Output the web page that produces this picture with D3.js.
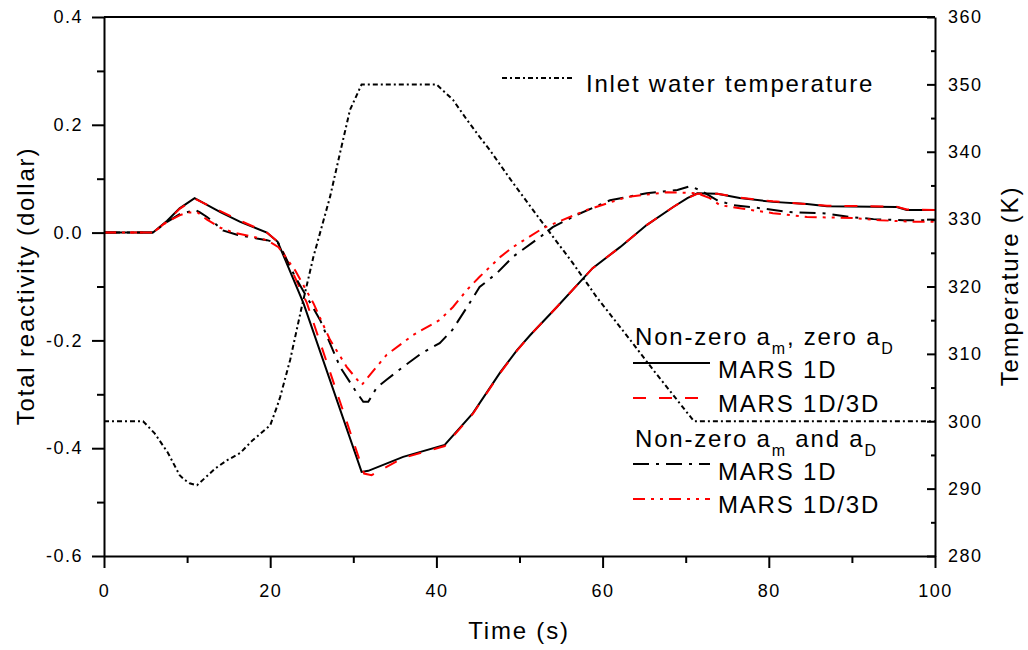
<!DOCTYPE html>
<html><head><meta charset="utf-8">
<script src="https://cdn.jsdelivr.net/npm/d3@7"></script>
<style>
body{margin:0;background:#fff;}
text{font-family:"Liberation Sans",Arial,sans-serif;fill:#000;}
</style></head>
<body><svg id="c" width="1028" height="650"></svg>
<script>
// ---- data ----
const xTicks = [0,20,40,60,80,100];
const yLeftTicks = [-0.6,-0.4,-0.2,0.0,0.2,0.4];
const yLeftLabels = ["-0.6","-0.4","-0.2","0.0","0.2","0.4"];
const yRightTicks = [280,290,300,310,320,330,340,350,360];

const inletT = [0,4.7,6.1,7.7,9.1,9.7,10.3,11.2,11.9,13.4,14.8,16.4,17.9,20,20.8,21.2,22.4,23.8,25.2,27.2,28.4,29.6,31,40,42,43.7,45.2,46.4,49.2,52.8,56.4,59.3,63.3,66.1,71,100];
const inletV = [300,300,298.2,295.3,292,291.3,290.8,290.5,291.3,293,294.2,295.3,297.2,299.4,302.1,303.6,309.1,317,324.4,333.3,339.8,346.2,350,350,347.7,344.7,342.2,340.3,335.4,329.4,323.5,318.4,312.1,307.6,300,300];

const s1T = [0,5.9,7.6,9.1,10.9,14,16.4,19.6,20.9,24,31,31.8,36,41,44.4,47.7,49.7,51.3,54.5,58.8,62.1,65.3,68.5,70.2,71.4,73.8,76.5,80.5,84.6,87,95.4,96.6,100];
const s1V = [0,0,0.022,0.045,0.064,0.038,0.02,0.0,-0.017,-0.131,-0.444,-0.442,-0.416,-0.394,-0.335,-0.259,-0.218,-0.19,-0.138,-0.066,-0.027,0.014,0.0475,0.064,0.073,0.072,0.064,0.057,0.053,0.049,0.0475,0.042,0.042];

const s2T = [0,5.9,7.6,9.1,10.9,14,16.4,19.6,21,24.4,31.3,32.2,36,41,44.4,47.7,49.7,51.3,54.5,58.8,62.1,65.3,68.5,70.2,71.4,73.8,76.5,80.5,84.6,87,95.4,96.6,100];
const s2V = [0,0,0.021,0.044,0.063,0.04,0.022,0.0,-0.018,-0.13,-0.447,-0.450,-0.418,-0.396,-0.336,-0.26,-0.219,-0.19,-0.138,-0.066,-0.027,0.014,0.0475,0.064,0.072,0.072,0.065,0.058,0.053,0.05,0.048,0.043,0.042];

const s3T = [0,5.9,7.6,9.1,11,11.5,12.4,13.5,14.3,16,18.4,19.6,21,23,26,28.4,30.2,31.2,31.8,32.8,34,36,38.3,40.4,41.9,43.7,45.2,47.3,49.2,52.5,54,56.9,60.9,65.3,69,70.5,71.7,73.8,75.7,78.6,82.5,86.5,89.8,92.6,96.2,100];
const s3V = [0,0,0.02,0.034,0.042,0.038,0.029,0.015,0.004,-0.004,-0.011,-0.014,-0.02,-0.082,-0.162,-0.249,-0.292,-0.314,-0.314,-0.288,-0.273,-0.249,-0.223,-0.205,-0.181,-0.138,-0.101,-0.075,-0.045,-0.008,0.01,0.033,0.06,0.073,0.079,0.086,0.079,0.06,0.051,0.046,0.038,0.036,0.029,0.025,0.023,0.023];

const s4T = [0,5.9,7.6,9.1,10,11.2,12.4,14,15.6,18,19.6,21,23,25.2,27.2,29.2,31,32.8,34,37.2,40.4,42,43.7,45.2,47.7,49.2,52.8,58.1,62.9,67.8,71.4,72.9,74.1,76.1,80.5,84.6,90.1,93.4,97.3,100];
const s4V = [0,0,0.02,0.032,0.037,0.038,0.024,0.009,0.0,-0.008,-0.014,-0.027,-0.07,-0.131,-0.199,-0.249,-0.283,-0.249,-0.227,-0.19,-0.162,-0.138,-0.106,-0.082,-0.045,-0.027,0.008,0.042,0.066,0.075,0.073,0.064,0.051,0.046,0.036,0.029,0.027,0.023,0.02,0.02];

// ---- chart ----
const svg = d3.select("#c");
const L=104,R=935,T=17,B=556;
const x = d3.scaleLinear().domain([0,100]).range([L,R]);
const yL = d3.scaleLinear().domain([-0.6,0.4]).range([B,T]);
const yR = d3.scaleLinear().domain([280,360]).range([B,T]);

const lineL = (ts,vs)=>d3.line().x((d,i)=>x(ts[i])).y((d,i)=>yL(vs[i]))(ts);
const lineR = (ts,vs)=>d3.line().x((d,i)=>x(ts[i])).y((d,i)=>yR(vs[i]))(ts);

const g = svg.append("g");
const styles = {
  inlet:{stroke:"#000",dash:"5,3,2,3",w:2},
  s1:{stroke:"#000",dash:null,w:2},
  s2:{stroke:"#ff0000",dash:"13,13",w:2},
  s3:{stroke:"#000",dash:"16,7,3,7",w:2},
  s4:{stroke:"#ff0000",dash:"12,6,3,6,3,6",w:2}
};
function draw(d,st){
  g.append("path").attr("d",d).attr("fill","none").attr("stroke",st.stroke)
   .attr("stroke-width",st.w).attr("stroke-dasharray",st.dash);
}
draw(lineR(inletT,inletV),styles.inlet);
draw(lineL(s1T,s1V),styles.s1);
draw(lineL(s2T,s2V),styles.s2);
draw(lineL(s3T,s3V),styles.s3);
draw(lineL(s4T,s4V),styles.s4);

// axes
const axG = svg.append("g");
function styleAxis(sel){
  sel.selectAll("path,line").attr("stroke","#000").attr("stroke-width",2);
  sel.selectAll("text").style("font-size","18px").style("letter-spacing","1.5px")
     .style("font-family","'Liberation Sans',Arial,sans-serif").attr("fill","#000");
}
// bottom
const minorX = d3.range(10,100,20);
axG.append("g").attr("transform",`translate(0,${B})`)
  .call(d3.axisBottom(x).tickValues(minorX).tickSize(7).tickFormat(""))
  .call(s=>s.select(".domain").remove()).call(styleAxis);
axG.append("g").attr("transform",`translate(0,${B})`)
  .call(d3.axisBottom(x).tickValues(xTicks).tickSize(12).tickSizeOuter(0).tickPadding(16).tickFormat(d3.format("d")))
  .call(styleAxis);
// left
const minorL = [-0.5,-0.3,-0.1,0.1,0.3];
axG.append("g").attr("transform",`translate(${L},0)`)
  .call(d3.axisLeft(yL).tickValues(minorL).tickSize(7).tickFormat(""))
  .call(s=>s.select(".domain").remove()).call(styleAxis);
axG.append("g").attr("transform",`translate(${L},0)`)
  .call(d3.axisLeft(yL).tickValues(yLeftTicks).tickSize(12).tickSizeOuter(0).tickPadding(9)
    .tickFormat((d,i)=>yLeftLabels[i]))
  .call(styleAxis);
// right
const minorR = d3.range(285,360,10);
axG.append("g").attr("transform",`translate(${R},0)`)
  .call(d3.axisRight(yR).tickValues(minorR).tickSize(-4).tickFormat(""))
  .call(s=>s.select(".domain").remove()).call(styleAxis);
axG.append("g").attr("transform",`translate(${R},0)`)
  .call(d3.axisRight(yR).tickValues(yRightTicks).tickSize(-8).tickSizeOuter(0).tickPadding(13).tickFormat(d3.format("d")))
  .call(styleAxis);
// top border
axG.append("line").attr("x1",L).attr("x2",R).attr("y1",T).attr("y2",T).attr("stroke","#000").attr("stroke-width",2);

// axis titles
const ttl = {"font-size":"24px","letter-spacing":"1.8px"};
function txt(sel,s,o){const t=sel.append("text").text(s);for(const k in o)t.style(k,o[k]);return t;}
txt(svg,"Time (s)",ttl).attr("x",519).attr("y",639).attr("text-anchor","middle");
txt(svg,"Total reactivity (dollar)",ttl).attr("text-anchor","middle").attr("transform","translate(34,286) rotate(-90)");
txt(svg,"Temperature (K)",ttl).attr("text-anchor","middle").attr("transform","translate(1018,286) rotate(-90)");

// legend
const lg = svg.append("g");
function sample(x1,x2,y,st){
  lg.append("line").attr("x1",x1).attr("x2",x2).attr("y1",y).attr("y2",y)
    .attr("stroke",st.stroke).attr("stroke-width",st.w).attr("stroke-dasharray",st.dash);
}
sample(502,572,78,styles.inlet);
txt(lg,"Inlet water temperature",ttl).attr("x",586).attr("y",92);

function subHead(y,parts){
  const t = lg.append("text").attr("x",635).attr("y",y).style("font-size","24px").style("letter-spacing","1.8px");
  parts.forEach(p=>{
    const ts=t.append("tspan").text(p.s);
    if(p.sub){ts.style("font-size","16px").attr("dy",9);} 
    else if(p.up){ts.attr("dy",-9);}
  });
}
subHead(345,[{s:"Non-zero a"},{s:"m",sub:true},{s:", zero a",up:true},{s:"D",sub:true}]);
sample(633,710,363,styles.s1);
txt(lg,"MARS 1D",ttl).attr("x",718).attr("y",378);
sample(633,710,398,styles.s2);
txt(lg,"MARS 1D/3D",ttl).attr("x",718).attr("y",412);
subHead(447,[{s:"Non-zero a"},{s:"m",sub:true},{s:" and a",up:true},{s:"D",sub:true}]);
sample(633,710,464,styles.s3);
txt(lg,"MARS 1D",ttl).attr("x",718).attr("y",480);
sample(633,710,499,styles.s4);
txt(lg,"MARS 1D/3D",ttl).attr("x",718).attr("y",513);
</script></body></html>
